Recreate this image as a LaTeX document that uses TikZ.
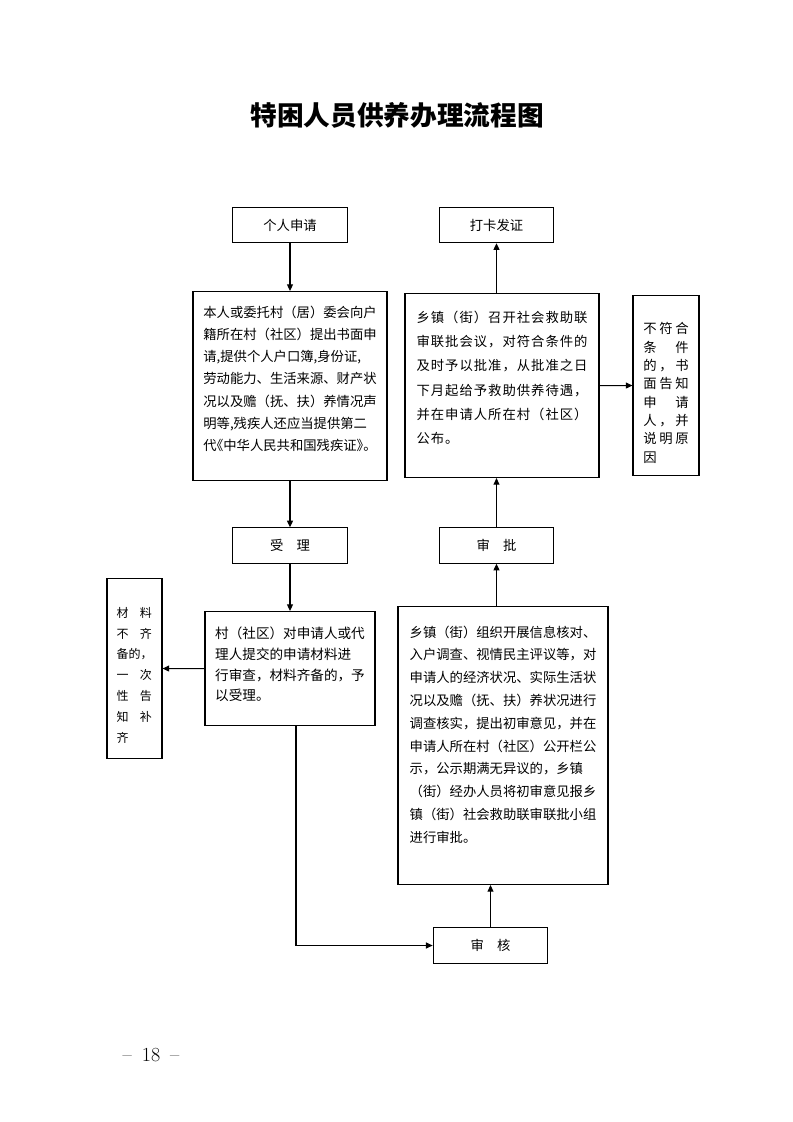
\documentclass[tikz,border=0pt]{standalone}
\usepackage{fontspec}
\newfontfamily\cjk{Noto Sans CJK SC}
\newfontfamily\cjkwide{Noto Sans CJK SC}[LetterSpace=7.5]
\usetikzlibrary{arrows.meta}
\tikzset{>={Triangle[length=5pt,width=4.5pt]}}
\tikzset{
  stepbox/.style={draw,line width=0.8pt,font=\cjk\fontsize{10pt}{12pt}\selectfont,
    minimum width=86pt,minimum height=26.5pt,inner sep=0pt},
  textbox/.style={draw,line width=0.8pt,align=left,inner sep=0pt,anchor=north},
  flow/.style={->,line width=0.8pt},
}
\newcommand\topline[1]{\rule{0pt}{#1}}
\newcommand\lastline[1]{\rule[-#1]{0pt}{#1}}
\newcommand\gridrow[3]{\makebox[12pt]{#1}\makebox[12pt]{#2}\makebox[12pt]{#3}}
\newcommand\pairrow[2]{\makebox[17.5pt][l]{#1}#2}

\begin{document}
\begin{tikzpicture}[x=0.75pt,y=-0.75pt]
    \useasboundingbox (0,0) rectangle (793,1122);
    \node[font=\cjk\bfseries\fontsize{20pt}{24pt}\selectfont] (title) at (397,115) {特困人员供养办理流程图};
    \node[stepbox] (geren) at (290,225) {个人申请};
    \node[stepbox] (fazheng) at (496.5,225) {打卡发证};
    \node[stepbox] (shouli) at (290,545.5) {受　理};
    \node[stepbox] (shenpi) at (496.5,545.5) {审　批};
    \node[stepbox] (shenhe) at (490.5,945.5) {审　核};
    \node[textbox,minimum width=145.5pt,font=\cjk\fontsize{10pt}{16.6pt}\selectfont] (shenqing) at (290,291)
      {\topline{19.5pt}本人或委托村（居）委会向户\\
       籍所在村（社区）提出书面申\\
       请,提供个人户口簿,身份证,\\
       劳动能力、生活来源、财产状\\
       况以及赡（抚、扶）养情况声\\
       明等,残疾人还应当提供第二\\
       代\kern-.5em《中华人民共和国残疾证》\kern-.5em。\lastline{22.65pt}};
    \node[textbox,minimum width=145.5pt,font=\cjkwide\fontsize{10pt}{18.15pt}\selectfont] (pizhun) at (502,293)
      {\topline{21.75pt}乡镇（街）召开社会救助联\\
       审联批会议，对符合条件的\\
       及时予以批准，从批准之日\\
       下月起给予救助供养待遇，\\
       并在申请人所在村（社区）\\
       公布。\lastline{25.5pt}};
    \node[textbox,minimum width=49.5pt,font=\cjk\fontsize{10pt}{13.75pt}\selectfont] (buhe) at (666,295)
      {\topline{28.75pt}\gridrow{不}{符}{合}\\
       \gridrow{条}{}{件}\\
       \gridrow{的}{，}{书}\\
       \gridrow{面}{告}{知}\\
       \gridrow{申}{}{请}\\
       \gridrow{人}{，}{并}\\
       \gridrow{说}{明}{原}\\
       \gridrow{因}{}{}\lastline{10pt}};
    \node[textbox,minimum width=127.5pt,font=\cjk\fontsize{10.2pt}{15.45pt}\selectfont] (cun) at (290,611)
      {\topline{20.5pt}村（社区）对申请人或代\\
       理人提交的申请材料进\\
       行审查，材料齐备的，予\\
       以受理。\lastline{18.65pt}};
    \node[textbox,minimum width=41.25pt,font=\cjk\fontsize{9pt}{15.6pt}\selectfont] (cailiao) at (134.5,578)
      {\topline{29pt}\pairrow{材}{料}\\
       \pairrow{不}{齐}\\
       备的，\\
       \pairrow{一}{次}\\
       \pairrow{性}{告}\\
       \pairrow{知}{补}\\
       齐\lastline{12.4pt}};
    \node[textbox,minimum width=157.5pt,font=\cjk\fontsize{10pt}{17.08pt}\selectfont] (hecha) at (503,606)
      {\topline{23pt}乡镇（街）组织开展信息核对、\\
       入户调查、视情民主评议等，对\\
       申请人的经济状况、实际生活状\\
       况以及赡（抚、扶）养状况进行\\
       调查核实，提出初审意见，并在\\
       申请人所在村（社区）公开栏公\\
       示，公示期满无异议的，乡镇\\
       （街）经办人员将初审意见报乡\\
       镇（街）社会救助联审联批小组\\
       进行审批。\lastline{31.75pt}};
    \node[font=\fontsize{15pt}{18pt}\selectfont] (page) at (151,1055) {--\enspace 18\enspace --};
    \draw[flow] (geren.south) -- (geren.south |- shenqing.north);
    \draw[flow] (shenqing.south -| shouli.north) -- (shouli.north);
    \draw[flow] (shouli.south) -- (shouli.south |- cun.north);
    \draw[flow] (cun.west) -- (cailiao.east);
    \draw[flow] ([xshift=4.5pt]cun.south) |- (shenhe.west);
    \draw[flow] (shenhe.north) -- (shenhe.north |- hecha.south);
    \draw[flow] (hecha.north -| shenpi.south) -- (shenpi.south);
    \draw[flow] (shenpi.north) -- (shenpi.north |- pizhun.south);
    \draw[flow] (pizhun.north -| fazheng.south) -- (fazheng.south);
    \draw[flow] (pizhun.east) -- (buhe.west);
\end{tikzpicture}
\end{document}
